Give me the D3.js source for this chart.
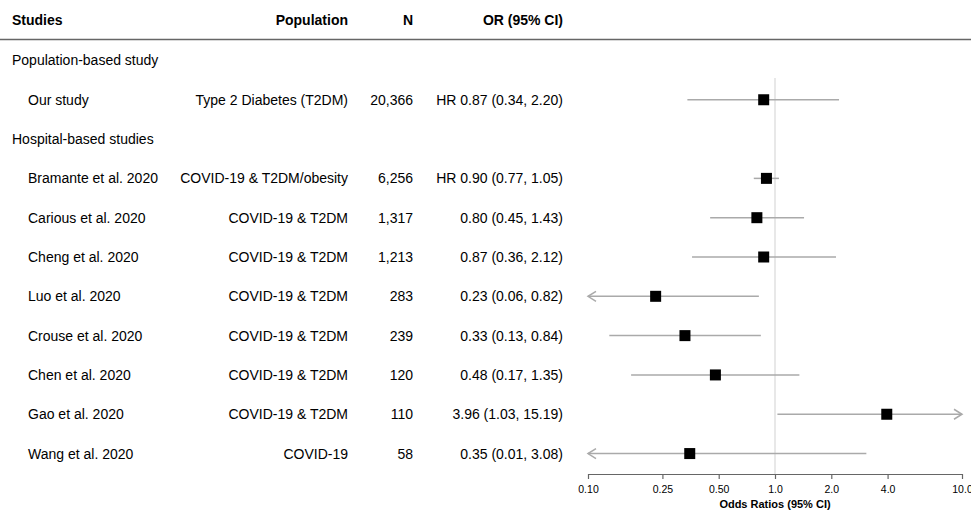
<!DOCTYPE html>
<html><head><meta charset="utf-8">
<script src="https://cdn.jsdelivr.net/npm/d3@7"></script>
<style>body{margin:0;background:#fff}svg{display:block}text{font-family:"Liberation Sans",Arial,sans-serif}</style>
</head><body><svg id="c" width="971" height="512"></svg>
<script>
const rows = ["group","study","group","study","study","study","study","study","study","study","study"];
const studies = ["Population-based study","Our study","Hospital-based studies","Bramante et al. 2020","Carious et al. 2020","Cheng  et al. 2020","Luo et al. 2020","Crouse et al. 2020","Chen et al. 2020","Gao et al. 2020","Wang et al. 2020"];
const populations = ["","Type 2 Diabetes (T2DM)","","COVID-19 & T2DM/obesity","COVID-19 & T2DM","COVID-19 & T2DM","COVID-19 & T2DM","COVID-19 & T2DM","COVID-19 & T2DM","COVID-19 & T2DM","COVID-19"];
const ns = ["","20,366","","6,256","1,317","1,213","283","239","120","110","58"];
const orLabels = ["","HR 0.87 (0.34, 2.20)","","HR 0.90 (0.77, 1.05)","0.80 (0.45, 1.43)","0.87 (0.36, 2.12)","0.23 (0.06, 0.82)","0.33 (0.13, 0.84)","0.48 (0.17, 1.35)","3.96 (1.03, 15.19)","0.35 (0.01, 3.08)"];
const est = [null,0.87,null,0.90,0.80,0.87,0.23,0.33,0.48,3.96,0.35];
const lower = [null,0.34,null,0.77,0.45,0.36,0.06,0.13,0.17,1.03,0.01];
const upper = [null,2.20,null,1.05,1.43,2.12,0.82,0.84,1.35,15.19,3.08];
const tickVals = [0.10,0.25,0.50,1.0,2.0,4.0,10.0];
const tickLabels = ["0.10","0.25","0.50","1.0","2.0","4.0","10.0"];

const svg = d3.select("#c");
const x = d3.scaleLog().domain([0.1,10]).range([588,962]);
const y = d3.scaleBand().domain(d3.range(rows.length)).range([40,474]).paddingOuter(0.02);
const yc = i => y(i) + y.bandwidth()/2;

// header
const hdr = svg.append("g").attr("font-size",14).attr("font-weight","bold").attr("fill","#000");
hdr.append("text").attr("x",12).attr("y",24.5).text("Studies");
hdr.append("text").attr("x",348).attr("y",24.5).attr("text-anchor","end").text("Population");
hdr.append("text").attr("x",413).attr("y",24.5).attr("text-anchor","end").text("N");
hdr.append("text").attr("x",563).attr("y",24.5).attr("text-anchor","end").text("OR (95% CI)");
svg.append("line").attr("x1",0).attr("x2",971).attr("y1",39.5).attr("y2",39.5).attr("stroke","#666").attr("stroke-width",1.3);

// reference line
svg.append("line").attr("x1",x(1)).attr("x2",x(1)).attr("y1",78).attr("y2",474).attr("stroke","#e0e0e0").attr("stroke-width",1.5);

const g = svg.append("g").attr("font-size",14).attr("fill","#000");
rows.forEach((r,i)=>{
  const cy = yc(i)+5;
  g.append("text").attr("x", r==="group"?12:28).attr("y",cy).text(studies[i]);
  if (r==="study"){
    g.append("text").attr("x",348).attr("y",cy).attr("text-anchor","end").text(populations[i]);
    g.append("text").attr("x",413).attr("y",cy).attr("text-anchor","end").text(ns[i]);
    g.append("text").attr("x",563).attr("y",cy).attr("text-anchor","end").text(orLabels[i]);
  }
});

// CI lines
const [dmin,dmax] = x.domain();
rows.forEach((r,i)=>{
  if (r!=="study") return;
  const cy = yc(i);
  const lo = Math.max(lower[i],dmin), hi = Math.min(upper[i],dmax);
  svg.append("line").attr("x1",x(lo)).attr("x2",x(hi)).attr("y1",cy).attr("y2",cy).attr("stroke","#aaa").attr("stroke-width",1.5);
  if (lower[i] < dmin){
    const ax = x(dmin);
    svg.append("path").attr("d",`M${ax+8},${cy-5}L${ax},${cy}L${ax+8},${cy+5}`).attr("fill","none").attr("stroke","#aaa").attr("stroke-width",1.5);
  }
  if (upper[i] > dmax){
    const ax = x(dmax);
    svg.append("path").attr("d",`M${ax-8},${cy-5}L${ax},${cy}L${ax-8},${cy+5}`).attr("fill","none").attr("stroke","#aaa").attr("stroke-width",1.5);
  }
  const s = 11;
  svg.append("rect").attr("x",x(est[i])-s/2).attr("y",cy-s/2).attr("width",s).attr("height",s).attr("fill","#000");
});

// axis
const ax = svg.append("g").attr("transform","translate(0,474)")
  .call(d3.axisBottom(x).tickValues(tickVals).tickFormat((d,i)=>tickLabels[i]).tickSize(5).tickSizeOuter(0));
ax.select(".domain").attr("stroke","#666").attr("stroke-width",1.2);
ax.selectAll(".tick line").attr("stroke","#666").attr("stroke-width",1.2);
ax.selectAll(".tick text").attr("font-size",10.5).attr("font-family","Liberation Sans, Arial, sans-serif").attr("dy","1.0em");
svg.append("text").attr("x",x(1)).attr("y",508).attr("text-anchor","middle").attr("font-size",11).attr("font-weight","bold").text("Odds Ratios (95% CI)");
</script></body></html>
